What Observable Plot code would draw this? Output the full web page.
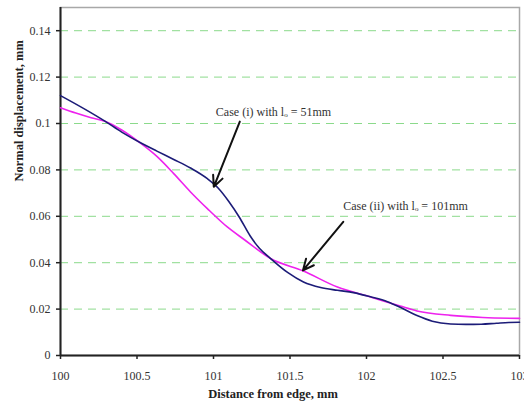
<!DOCTYPE html>
<html>
<head>
<meta charset="utf-8">
<script src="https://cdn.jsdelivr.net/npm/d3@7"></script>
<script src="https://cdn.jsdelivr.net/npm/@observablehq/plot@0.6"></script>
<style>
  html, body { margin: 0; padding: 0; background: #fff; }
  #chart { width: 524px; height: 404px; overflow: hidden; }
</style>
</head>
<body>
<div id="chart"></div>
<script>
// Case (i), l0 = 51mm (navy)
const caseIX = [100, 100.15, 100.29, 100.4, 100.523, 100.63, 100.74, 100.85, 100.96, 101.03, 101.1, 101.17, 101.24, 101.3, 101.373, 101.484, 101.588, 101.7, 101.81, 101.915, 102.026, 102.137, 102.22, 102.33, 102.43, 102.55, 102.65, 102.75, 102.85, 102.93, 103];
const caseIY = [0.112, 0.1065, 0.101, 0.0963, 0.0917, 0.0881, 0.0845, 0.0808, 0.0762, 0.0722, 0.0664, 0.0595, 0.0515, 0.0462, 0.0418, 0.0358, 0.0317, 0.0293, 0.0281, 0.0271, 0.0253, 0.0232, 0.0208, 0.0172, 0.0148, 0.0136, 0.0134, 0.0135, 0.0139, 0.0142, 0.0143];
// Case (ii), l0 = 101mm (magenta)
const caseIIX = [100, 100.1, 100.2, 100.29, 100.4, 100.523, 100.63, 100.74, 100.85, 100.96, 101.09, 101.2, 101.373, 101.588, 101.81, 102.026, 102.22, 102.33, 102.55, 102.76, 103];
const caseIIY = [0.1068, 0.1045, 0.1025, 0.101, 0.0972, 0.0915, 0.0858, 0.0784, 0.0705, 0.0633, 0.0554, 0.050, 0.0418, 0.0364, 0.0295, 0.0252, 0.0213, 0.0192, 0.0173, 0.0164, 0.016];

const xTicks = [100, 100.5, 101, 101.5, 102, 102.5, 103];
const yTicks = [0, 0.02, 0.04, 0.06, 0.08, 0.1, 0.12, 0.14];
const gridY = [0.02, 0.04, 0.06, 0.08, 0.1, 0.12, 0.14];

const labels = ["Case (i) with l\u2092 = 51mm", "Case (ii) with l\u2092 = 101mm"];
const labelX = [101.392, 102.255];
const labelY = [0.1051, 0.0644];
const arrowX1 = [101.172, 101.848];
const arrowY1 = [0.1008, 0.0576];
const arrowX2 = [101.002, 101.585];
const arrowY2 = [0.0727, 0.0367];

const seriesI = caseIX.map((x, i) => ({x, y: caseIY[i]}));
const seriesII = caseIIX.map((x, i) => ({x, y: caseIIY[i]}));
const notes = labels.map((t, i) => ({t, x: labelX[i], y: labelY[i]}));
const arrows = arrowX1.map((x1, i) => ({x1, y1: arrowY1[i], x2: arrowX2[i], y2: arrowY2[i]}));

const fmt = d => String(+(+d).toFixed(3));
const font = "'Liberation Serif', 'Times New Roman', serif";

const chart = Plot.plot({
  width: 524,
  height: 404,
  marginLeft: 60,
  marginRight: 5,
  marginTop: 7,
  marginBottom: 49,
  style: {fontFamily: font, fontSize: "12px", color: "#333", background: "#fff", overflow: "visible"},
  x: {domain: [100, 103]},
  y: {domain: [0, 0.15]},
  marks: [
    Plot.gridY(gridY, {stroke: "#7ed67e", strokeOpacity: 0.9, strokeDasharray: "8,6", strokeWidth: 1}),
    Plot.frame({stroke: "#a8a8a8", strokeWidth: 1.5}),
    Plot.axisX(xTicks, {tickSize: 4, tickPadding: 12, tickFormat: fmt, stroke: "#222", strokeWidth: 1.5, fill: "#333", fontSize: 12, label: null}),
    Plot.axisY(yTicks, {tickSize: 4, tickPadding: 6, tickFormat: fmt, stroke: "#222", strokeWidth: 1.5, fill: "#333", fontSize: 12, label: null}),
    Plot.ruleX([100], {stroke: "#222", strokeWidth: 2}),
    Plot.ruleY([0], {stroke: "#222", strokeWidth: 2}),
    Plot.line(seriesII, {x: "x", y: "y", stroke: "#ee22ee", strokeWidth: 1.6, curve: "monotone-x"}),
    Plot.line(seriesI, {x: "x", y: "y", stroke: "#1c1c78", strokeWidth: 1.6, curve: "monotone-x"}),
    Plot.arrow(arrows, {x1: "x1", y1: "y1", x2: "x2", y2: "y2", stroke: "#111", strokeWidth: 2, headLength: 9, headAngle: 50}),
    Plot.text(notes, {x: "x", y: "y", text: "t", fill: "#333", fontSize: 12}),
    Plot.text(["Distance from edge, mm"], {frameAnchor: "bottom", dx: -17, dy: 42, fontWeight: "bold", fontSize: 12.5, fill: "#222"}),
    Plot.text(["Normal displacement, mm"], {frameAnchor: "left", dx: -42, rotate: -90, fontWeight: "bold", fontSize: 12.5, fill: "#222"})
  ]
});
document.getElementById("chart").appendChild(chart);
</script>
</body>
</html>
